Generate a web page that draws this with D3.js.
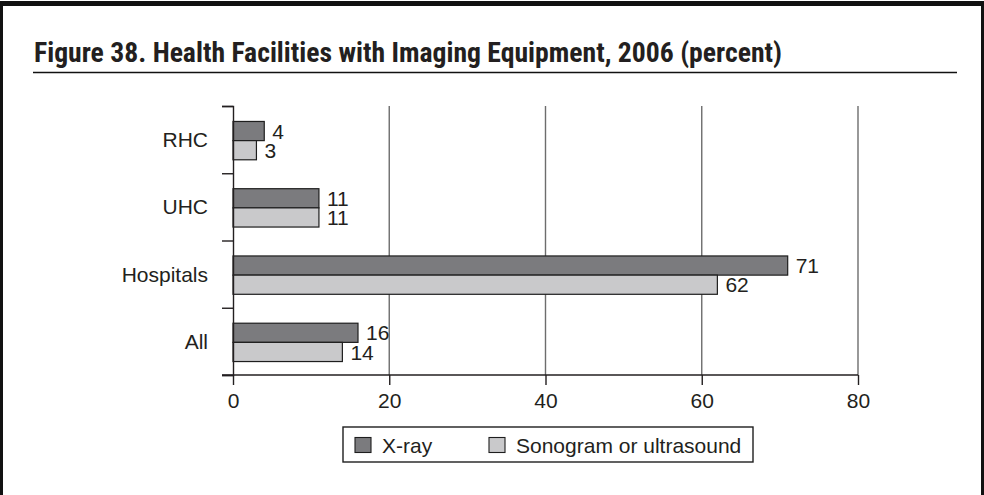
<!DOCTYPE html>
<html>
<head>
<meta charset="utf-8">
<script src="https://cdn.jsdelivr.net/npm/d3@7"></script>
<style>
  html, body { margin: 0; padding: 0; background: #fff; }
  svg { display: block; }
  text { fill: #231f20; }
</style>
</head>
<body>
<svg id="chart" width="984" height="495"></svg>
<script>
// Facility types, top to bottom
const categories = ["RHC", "UHC", "Hospitals", "All"];
// Series names (legend order)
const seriesNames = ["X-ray", "Sonogram or ultrasound"];
// Percent of facilities with each kind of equipment
const xrayValues = [4, 11, 71, 16];
const sonoValues = [3, 11, 62, 14];
// Value axis ticks
const xTicks = [0, 20, 40, 60, 80];

const titleText = "Figure 38.  Health Facilities with Imaging Equipment, 2006 (percent)";

const colors = { "X-ray": "#7b7b7e", "Sonogram or ultrasound": "#c9c9cb" };
const ink = "#231f20";
const labelFont = "'Liberation Sans', Arial, Helvetica, sans-serif";

const svg = d3.select("#chart");

// Frame around the figure
svg.append("rect").attr("x", 0).attr("y", 1).attr("width", 984).attr("height", 5).attr("fill", "#111");
svg.append("rect").attr("x", 0).attr("y", 1).attr("width", 3).attr("height", 494).attr("fill", "#111");
svg.append("rect").attr("x", 981).attr("y", 1).attr("width", 3).attr("height", 494).attr("fill", "#111");

// Title and rule beneath it
svg.append("text")
  .attr("x", 34).attr("y", 62)
  .attr("font-family", "'Liberation Sans Narrow', 'Roboto Condensed', 'DejaVu Sans Condensed', 'Open Sans', sans-serif")
  .attr("font-weight", "bold")
  .attr("font-size", 27)
  .attr("textLength", 748)
  .attr("lengthAdjust", "spacingAndGlyphs")
  .text(titleText);
svg.append("line")
  .attr("x1", 33).attr("x2", 957).attr("y1", 72.5).attr("y2", 72.5)
  .attr("stroke", "#111").attr("stroke-width", 1.6);

// Scales
const x = d3.scaleLinear().domain([0, 80]).range([233, 858]);
const y = d3.scaleBand().domain(categories).range([106, 375])
  .paddingInner(0.43).paddingOuter(0.215);
const ySub = d3.scaleBand().domain(seriesNames).range([0, y.bandwidth()]);
const yEdges = d3.scaleLinear().domain([0, categories.length]).range([106, 375]);

// Vertical grid lines
svg.append("g").selectAll("line")
  .data(xTicks.filter(d => d > 0))
  .join("line")
  .attr("x1", d => x(d)).attr("x2", d => x(d))
  .attr("y1", 106).attr("y2", 375)
  .attr("stroke", "#6d6d6d").attr("stroke-width", 1.4);

// Bars
const rows = categories.map((c, i) => ({ cat: c, vals: [xrayValues[i], sonoValues[i]] }));
const groups = svg.append("g").selectAll("g")
  .data(rows).join("g")
  .attr("transform", d => `translate(0,${y(d.cat) + 1})`);

groups.selectAll("rect")
  .data(d => d.vals.map((v, j) => ({ s: seriesNames[j], v })))
  .join("rect")
  .attr("x", x(0))
  .attr("y", d => ySub(d.s))
  .attr("width", d => x(d.v) - x(0))
  .attr("height", ySub.bandwidth())
  .attr("fill", d => colors[d.s])
  .attr("stroke", "#1e1e1e").attr("stroke-width", 1.2);

// Value labels
groups.selectAll("text")
  .data(d => d.vals.map((v, j) => ({ s: seriesNames[j], v })))
  .join("text")
  .attr("x", d => x(d.v) + 8)
  .attr("y", d => ySub(d.s) + ySub.bandwidth() / 2)
  .attr("dy", "0.36em")
  .attr("font-family", labelFont).attr("font-size", 21)
  .text(d => d.v);

// Category axis: edge ticks plus centred labels
const yAxis = svg.append("g")
  .attr("transform", `translate(${x(0)},0)`)
  .call(d3.axisLeft(yEdges).tickValues(d3.range(0, categories.length + 1)).tickSize(11).tickFormat(""));
yAxis.select(".domain").attr("stroke", ink).attr("stroke-width", 1.4);
yAxis.selectAll(".tick line").attr("stroke", ink).attr("stroke-width", 1.4);

svg.append("g").selectAll("text")
  .data(categories).join("text")
  .attr("x", 208)
  .attr("y", d => y(d) + y.bandwidth() / 2)
  .attr("dy", "0.36em")
  .attr("text-anchor", "end")
  .attr("font-family", labelFont).attr("font-size", 21)
  .text(d => d);

// Value axis
const xAxis = svg.append("g")
  .attr("transform", "translate(0,375)")
  .call(d3.axisBottom(x).tickValues(xTicks).tickSize(10).tickSizeOuter(0).tickPadding(8));
xAxis.select(".domain").remove();
xAxis.append("line")
  .attr("x1", 222).attr("x2", x(80)).attr("y1", 0).attr("y2", 0)
  .attr("stroke", ink).attr("stroke-width", 1.4);
xAxis.selectAll(".tick line").attr("stroke", ink).attr("stroke-width", 1.4);
xAxis.selectAll(".tick text")
  .attr("font-family", labelFont).attr("font-size", 21).attr("fill", ink);

// Legend
const legend = svg.append("g");
legend.append("rect")
  .attr("x", 343).attr("y", 427).attr("width", 410).attr("height", 35)
  .attr("fill", "#fff").attr("stroke", "#1e1e1e").attr("stroke-width", 1.4);
const legendX = { "X-ray": 355, "Sonogram or ultrasound": 489 };
const items = legend.selectAll("g.item").data(seriesNames).join("g").attr("class", "item");
items.append("rect")
  .attr("x", d => legendX[d]).attr("y", 437.5)
  .attr("width", 16).attr("height", 15)
  .attr("fill", d => colors[d])
  .attr("stroke", "#1e1e1e").attr("stroke-width", 1.1);
items.append("text")
  .attr("x", d => legendX[d] + 27).attr("y", 445)
  .attr("dy", "0.36em")
  .attr("font-family", labelFont).attr("font-size", 21)
  .text(d => d);
</script>
</body>
</html>
